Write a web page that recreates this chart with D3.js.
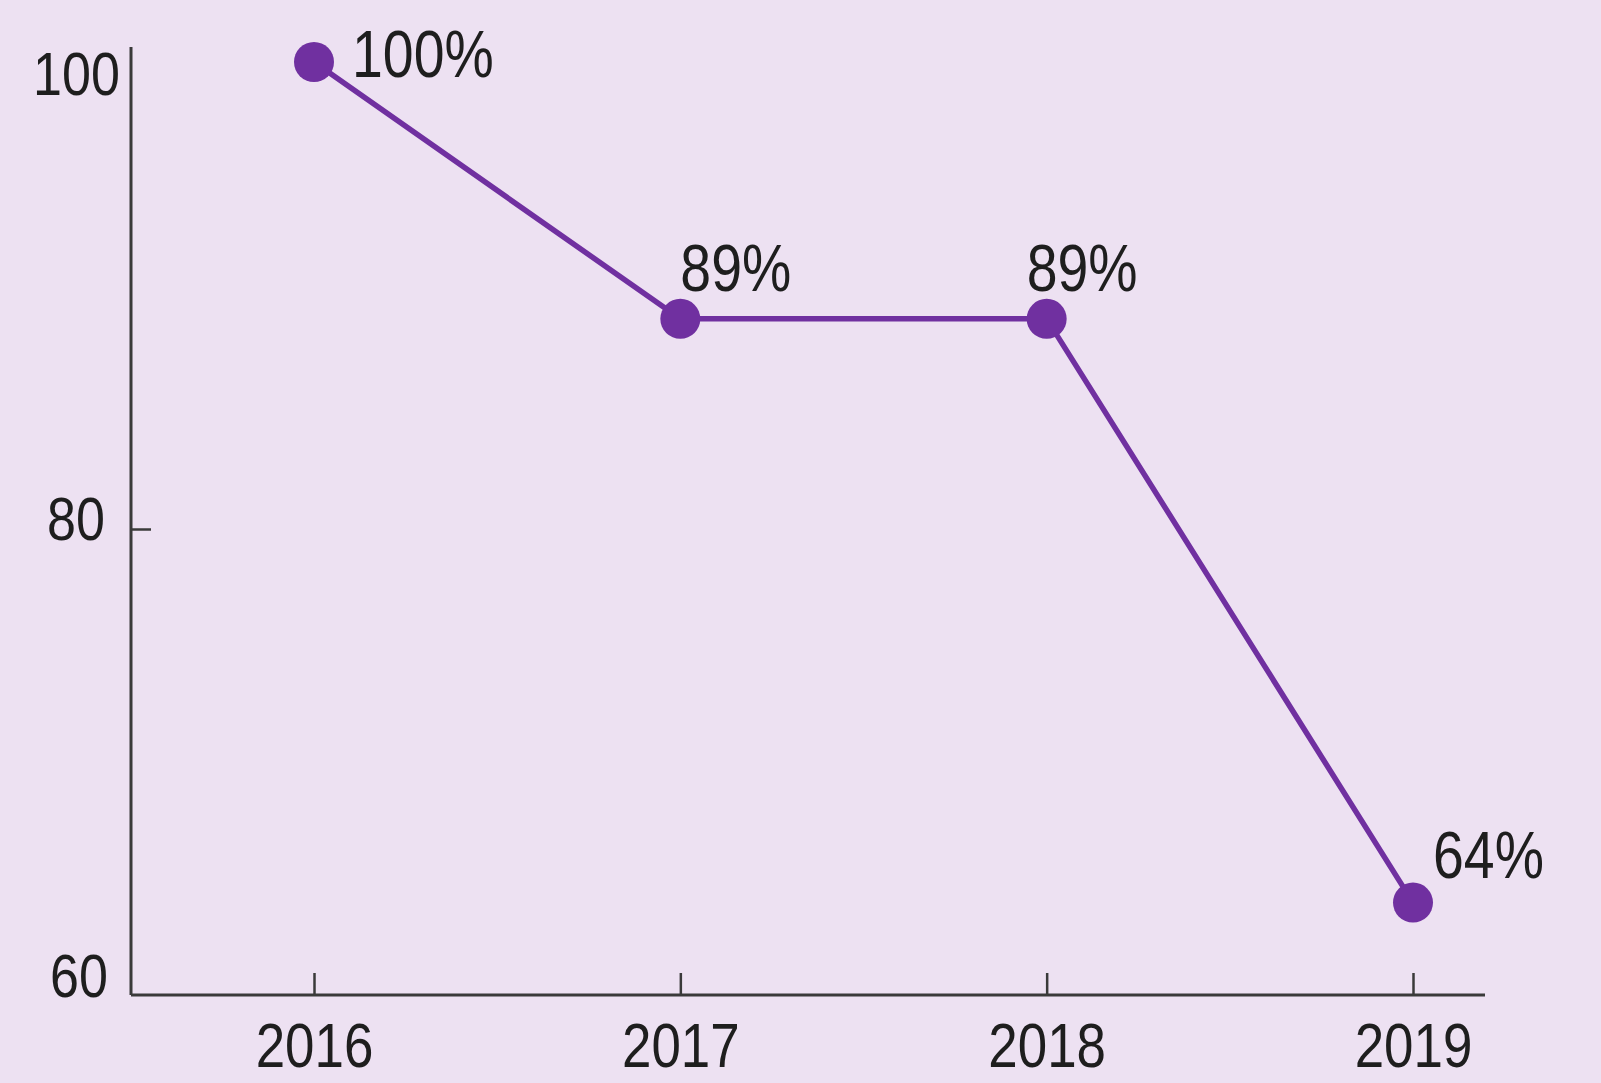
<!DOCTYPE html>
<html>
<head>
<meta charset="utf-8">
<script src="https://cdn.jsdelivr.net/npm/d3@7"></script>
<style>
  body { margin: 0; background: #ede1f2; }
  svg { display: block; }
  text { font-family: "Liberation Sans", Arial, sans-serif; fill: #1e1e1e; }
</style>
</head>
<body>
<svg id="chart"></svg>
<script>
/** chart data */
var years = ["2016", "2017", "2018", "2019"];
var values = [100, 89, 89, 64];
var valueLabels = ["100%", "89%", "89%", "64%"];
var yTicks = [60, 80, 100];

/** label offsets from the dot, px */
var labelDx = [38, 0, -20, 20],
    labelDy = [15, -28, -28, -25];

var width = 1601,
    height = 1083,
    axisX = 131,
    axisY = 995,
    narrow = 0.84,   // squeeze text to look like a narrow face
    purple = "#7030a0";

var svg = d3.select("#chart")
    .attr("width", width)
    .attr("height", height);

var x = d3.scalePoint()
    .domain(years)
    .range([314, 1413]);

var y = d3.scaleLinear()
    .domain([60, 100])
    .range([996, 62]);

// axis lines
svg.append("line")
    .attr("x1", axisX).attr("x2", axisX)
    .attr("y1", y(100) - 15).attr("y2", axisY)
    .attr("stroke", "#3a3a3a").attr("stroke-width", 3);

svg.append("line")
    .attr("x1", axisX).attr("x2", x("2019") + 72)
    .attr("y1", axisY).attr("y2", axisY)
    .attr("stroke", "#3a3a3a").attr("stroke-width", 3);

// y axis ticks + labels
var yAxis = svg.append("g")
    .attr("transform", "translate(" + axisX + ",0)")
    .call(d3.axisLeft(y).tickValues(yTicks).tickSizeInner(-20).tickSizeOuter(0).tickPadding(14));
yAxis.select(".domain").remove();
yAxis.selectAll("line")
    .attr("stroke", "#3a3a3a").attr("stroke-width", 2.5)
    .attr("opacity", function(d) { return d === 80 ? 1 : 0; });
var yNudge = {100: 11, 80: -11, 60: -21};
var yShift = {100: 11, 80: 26, 60: 23};
yAxis.selectAll("text")
    .style("font-size", "62px")
    .attr("fill", "#1e1e1e")
    .attr("transform", "scale(" + narrow + ",1)")
    .attr("x", function(d) { return -yShift[d] / narrow; })
    .attr("dy", function(d) { return (yNudge[d] + 21) + "px"; });

// x axis ticks + labels
var xAxis = svg.append("g")
    .attr("transform", "translate(0," + axisY + ")")
    .call(d3.axisBottom(x).tickSizeInner(-22).tickSizeOuter(0).tickPadding(27));
xAxis.select(".domain").remove();
xAxis.selectAll("line")
    .attr("stroke", "#3a3a3a").attr("stroke-width", 2.5);
xAxis.selectAll("text")
    .style("font-size", "63px")
    .attr("fill", "#1e1e1e")
    .attr("transform", "scale(" + narrow + ",1)");

// line + dots
var pts = years.map(function(yr, i) { return {year: yr, value: values[i], label: valueLabels[i], i: i}; });

var line = d3.line()
    .x(function(d) { return x(d.year); })
    .y(function(d) { return y(d.value); });

svg.append("path")
    .datum(pts)
    .attr("d", line)
    .attr("fill", "none")
    .attr("stroke", purple)
    .attr("stroke-width", 5.5)
    .attr("stroke-linejoin", "round");

svg.selectAll("circle.dot")
    .data(pts)
    .enter()
    .append("circle")
    .attr("class", "dot")
    .attr("cx", function(d) { return x(d.year); })
    .attr("cy", function(d) { return y(d.value); })
    .attr("r", 20)
    .attr("fill", purple);

svg.selectAll("text.val")
    .data(pts)
    .enter()
    .append("text")
    .attr("class", "val")
    .attr("transform", function(d) {
        return "translate(" + (x(d.year) + labelDx[d.i]) + "," + (y(d.value) + labelDy[d.i]) + ") scale(" + narrow + ",1)";
    })
    .style("font-size", "66px")
    .text(function(d) { return d.label; });
</script>
</body>
</html>
